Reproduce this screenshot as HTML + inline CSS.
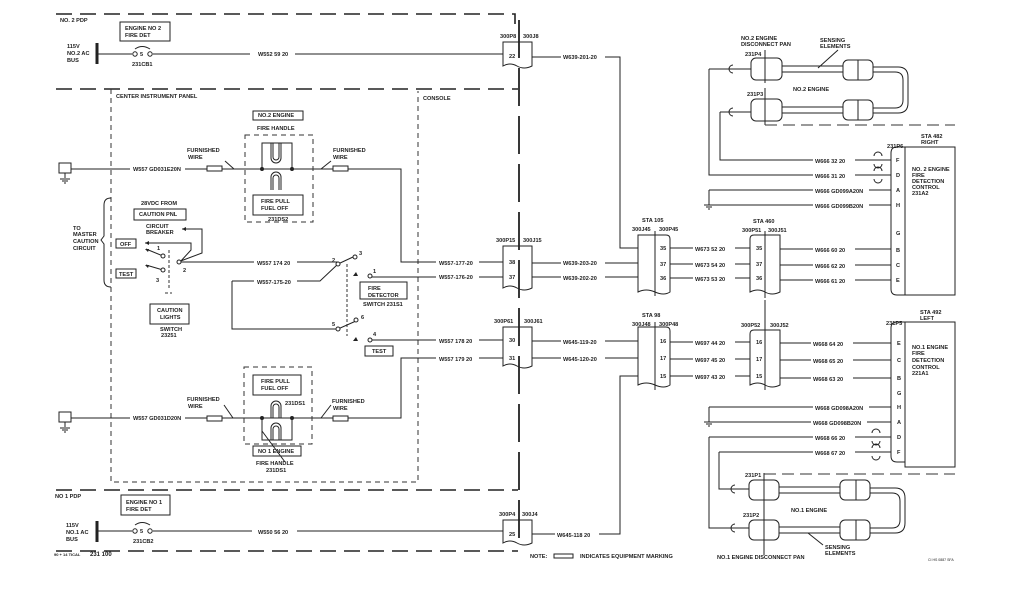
<!DOCTYPE html>
<html><head><meta charset="utf-8"><style>
html,body{margin:0;padding:0;background:#fff}
svg{display:block}
text{font-family:"Liberation Sans",sans-serif;font-size:5.6px;fill:#222;font-weight:bold}
.l{stroke:#222;stroke-width:1;fill:none}
.d{stroke:#222;stroke-width:1.6;fill:none;stroke-dasharray:16,8}
.dd{stroke:#333;stroke-width:1;fill:none;stroke-dasharray:5,4}
.b{stroke:#222;stroke-width:1;fill:#fff}
</style></head><body>
<svg width="1024" height="600" viewBox="0 0 1024 600" xmlns="http://www.w3.org/2000/svg">
<path class="d" d="M56 14H515V24"/>
<path class="d" d="M56 89H518"/>
<path class="d" d="M56 490H518"/>
<path class="d" d="M56 551H518"/>
<path class="dd" d="M111 89V482H418V91"/>
<text x="60" y="22">NO. 2 PDP</text>
<text x="116" y="98">CENTER INSTRUMENT PANEL</text>
<text x="423" y="100">CONSOLE</text>
<text x="55" y="498">NO 1 PDP</text>
<text x="54" y="556" style="font-size:4px">90 + 14 TICAL</text><text x="90" y="556" style="font-size:6px">231 100</text>

<rect class="b" x="120" y="22" width="50" height="19"/>
<text x="125" y="30">ENGINE NO 2</text><text x="125" y="37">FIRE DET</text>
<text x="67" y="48">115V</text><text x="67" y="55">NO.2 AC</text><text x="67" y="62">BUS</text>
<path d="M97 43V64" stroke="#222" stroke-width="3"/>
<path class="l" d="M97 54H132M153 54H505"/>
<circle class="b" cx="135" cy="54" r="2.2"/><circle class="b" cx="150" cy="54" r="2.2"/>
<path class="l" d="M135 49Q142 44 150 49"/>
<text x="140" y="56">5</text><text x="132" y="66">231CB1</text>
<rect x="250" y="50" width="45" height="7" fill="#fff"/><text x="258" y="56">W552 59 20</text>

<rect class="b" x="121" y="495" width="49" height="20"/>
<text x="126" y="504">ENGINE NO 1</text><text x="126" y="511">FIRE DET</text>
<text x="66" y="527">115V</text><text x="66" y="534">NO.1 AC</text><text x="66" y="541">BUS</text>
<path d="M97 521V542" stroke="#222" stroke-width="3"/>
<path class="l" d="M97 531H132M153 531H505"/>
<circle class="b" cx="135" cy="531" r="2.2"/><circle class="b" cx="150" cy="531" r="2.2"/>
<path class="l" d="M135 525Q142 520 150 525"/>
<text x="140" y="533">5</text><text x="133" y="543">231CB2</text>
<rect x="252" y="528" width="45" height="7" fill="#fff"/><text x="258" y="534">W550 56 20</text>

<path class="l" d="M65 169H401V262H505"/>
<rect class="b" x="59" y="163" width="12" height="10"/>
<path class="l" d="M65 173V178M60 179H70M62 181H68M64 183H66"/>
<rect x="130" y="165" width="55" height="7" fill="#fff"/><text x="133" y="171">W557 GD031E20N</text>
<rect class="b" x="207" y="166" width="15" height="5"/><rect class="b" x="333" y="166" width="15" height="5"/>
<text x="187" y="152">FURNISHED</text><text x="188" y="159">WIRE</text>
<path class="l" d="M225 161L234 169"/>
<text x="333" y="152">FURNISHED</text><text x="333" y="159">WIRE</text>
<path class="l" d="M331 161L321 169"/>
<rect class="b" x="253" y="111" width="50" height="9"/><text x="258" y="117">NO.2 ENGINE</text>
<text x="257" y="130">FIRE HANDLE</text>
<rect class="dd" x="245" y="135" width="68" height="87"/>
<path class="l" d="M262 169V143H292V169"/>
<path class="l" d="M271 143V158A5 5 0 0 0 281 158V143M273 143V157A3 3 0 0 0 279 157V143"/>
<path class="l" d="M271 190V177A5 5 0 0 1 281 177V190M273 190V178A3 3 0 0 1 279 178V190"/>
<circle cx="262" cy="169" r="2" fill="#222"/><circle cx="292" cy="169" r="2" fill="#222"/>
<rect class="b" x="253" y="195" width="50" height="20"/>
<text x="261" y="203">FIRE PULL</text><text x="261" y="210">FUEL OFF</text>
<text x="268" y="221">231DS2</text>

<path class="l" d="M65 418H401V358H505"/>
<rect class="b" x="59" y="412" width="12" height="10"/>
<path class="l" d="M65 422V427M60 428H70M62 430H68M64 432H66"/>
<rect x="130" y="414" width="55" height="7" fill="#fff"/><text x="133" y="420">W557 GD031D20N</text>
<rect class="b" x="207" y="416" width="15" height="5"/><rect class="b" x="333" y="416" width="15" height="5"/>
<text x="187" y="401">FURNISHED</text><text x="188" y="408">WIRE</text>
<path class="l" d="M224 405L233 418"/>
<text x="332" y="403">FURNISHED</text><text x="333" y="410">WIRE</text>
<path class="l" d="M331 405L321 418"/>
<rect class="dd" x="244" y="367" width="68" height="77"/>
<rect class="b" x="253" y="375" width="48" height="20"/>
<text x="261" y="383">FIRE PULL</text><text x="261" y="390">FUEL OFF</text>
<path class="l" d="M271 418V406A5 5 0 0 1 281 406V418M273 418V407A3 3 0 0 1 279 407V418"/>
<path class="l" d="M262 418V440H292V418"/>
<path class="l" d="M271 440V428A5 5 0 0 1 281 428V440M273 440V429A3 3 0 0 1 279 429V440"/>
<circle cx="262" cy="418" r="2" fill="#222"/><circle cx="292" cy="418" r="2" fill="#222"/>
<text x="285" y="405">231DS1</text>
<rect class="b" x="253" y="446" width="48" height="10"/><text x="258" y="453">NO 1 ENGINE</text>
<path class="l" d="M262 431L285 462"/>
<text x="256" y="465">FIRE HANDLE</text><text x="266" y="472">231DS1</text>

<path class="l" d="M111 198Q104 198 104 205V236L101 240L104 244V280Q104 287 111 287"/>
<text x="73" y="230">TO</text><text x="73" y="236">MASTER</text><text x="73" y="243">CAUTION</text><text x="73" y="250">CIRCUIT</text>
<text x="141" y="205">28VDC FROM</text>
<rect class="b" x="134" y="209" width="52" height="11"/><text x="139" y="216">CAUTION PNL</text>
<text x="146" y="228">CIRCUIT</text><text x="146" y="234">BREAKER</text>
<rect class="b" x="116" y="239" width="20" height="9"/><text x="120" y="246">OFF</text>
<rect class="b" x="116" y="269" width="20" height="9"/><text x="119" y="276">TEST</text>
<path class="l" d="M145 243H191V250L180 262M178 262L202 253V229H182"/>
<path d="M145 243l4-2v4zM182 229l4-2v4z" fill="#222"/>
<path class="l" d="M146 249L163 256M146 265L163 270"/>
<path d="M145 249l4 0-1 3zM145 265l4 0-1 3z" fill="#222"/>
<circle class="b" cx="163" cy="256" r="2"/><circle class="b" cx="163" cy="270" r="2"/><circle class="b" cx="179" cy="262" r="2"/>
<text x="157" y="250">1</text><text x="156" y="282">3</text><text x="183" y="272">2</text>
<path class="dd" d="M169 250V290M165 293H172" style="stroke-dasharray:3,2"/>
<rect class="b" x="150" y="304" width="39" height="20"/>
<text x="157" y="312">CAUTION</text><text x="160" y="319">LIGHTS</text>
<text x="160" y="331">SWITCH</text><text x="161" y="337">23251</text>
<path class="l" d="M181 262H338"/>
<rect x="254" y="259" width="43" height="7" fill="#fff"/><text x="257" y="265">W557 174 20</text>

<path class="l" d="M338 264L353 257M232 281H320L338 264M232 281V329H338L356 321"/>
<rect x="254" y="278" width="43" height="7" fill="#fff"/><text x="257" y="284">W557-175-20</text>
<circle class="b" cx="338" cy="264" r="2"/><circle class="b" cx="355" cy="257" r="2"/>
<circle class="b" cx="338" cy="329" r="2"/><circle class="b" cx="356" cy="320" r="2"/>
<text x="332" y="262">2</text><text x="359" y="255">3</text><text x="332" y="326">5</text><text x="361" y="319">6</text>
<path class="dd" d="M347 264V336" style="stroke-dasharray:3,2"/>
<path d="M353 276l3-4 2 4z" fill="#222"/><circle class="b" cx="370" cy="276" r="2"/><text x="373" y="273">1</text>
<path class="l" d="M372 277H505"/>
<path d="M353 341l3-4 2 4z" fill="#222"/><circle class="b" cx="370" cy="340" r="2"/><text x="373" y="336">4</text>
<path class="l" d="M372 340H505"/>
<rect class="b" x="360" y="282" width="47" height="17"/><text x="368" y="290">FIRE</text><text x="368" y="297">DETECTOR</text>
<text x="363" y="306">SWITCH 231S1</text>
<rect class="b" x="365" y="346" width="28" height="10"/><text x="372" y="353">TEST</text>
<rect x="436" y="259" width="43" height="7" fill="#fff"/><text x="439" y="265">W557-177-20</text>
<rect x="436" y="273" width="43" height="7" fill="#fff"/><text x="439" y="279">W557-176-20</text>
<rect x="436" y="337" width="43" height="7" fill="#fff"/><text x="439" y="343">W557 178 20</text>
<rect x="436" y="355" width="43" height="7" fill="#fff"/><text x="439" y="361">W557 179 20</text>

<g>
<path class="b" d="M503 42V66Q510 62 517 66Q524 70 532 66V42Z"/><text x="500" y="38">300P8</text><text x="523" y="38">300J8</text><text x="509" y="58">22</text>
<path class="b" d="M503 246V288Q510 284 517 288Q524 292 532 288V246Z"/><text x="496" y="242">300P15</text><text x="523" y="242">300J15</text><text x="509" y="264">38</text><text x="509" y="279">37</text>
<path class="b" d="M503 327V366Q510 362 517 366Q524 370 532 366V327Z"/><text x="494" y="323">300P61</text><text x="524" y="323">300J61</text><text x="509" y="342">30</text><text x="509" y="360">31</text>
<path class="b" d="M503 520V543Q510 539 517 543Q524 547 532 543V520Z"/><text x="499" y="516">300P4</text><text x="522" y="516">300J4</text><text x="509" y="536">25</text>
<path d="M519 20V548" stroke="#222" stroke-width="1.8" stroke-dasharray="38,10"/>
</g>
<path class="l" d="M532 57H620V248H638M532 263H638M532 277H638M532 341H638M532 358H638M532 534H620V376H638"/>
<rect x="561" y="53" width="44" height="7" fill="#fff"/><text x="563" y="59">W639-201-20</text>
<rect x="561" y="259" width="44" height="7" fill="#fff"/><text x="563" y="265">W639-203-20</text>
<rect x="561" y="274" width="44" height="7" fill="#fff"/><text x="563" y="280">W639-202-20</text>
<rect x="561" y="338" width="44" height="7" fill="#fff"/><text x="563" y="344">W645-119-20</text>
<rect x="561" y="355" width="44" height="7" fill="#fff"/><text x="563" y="361">W645-120-20</text>
<rect x="555" y="531" width="44" height="7" fill="#fff"/><text x="557" y="537">W645-118 20</text>

<path class="b" d="M638 235V292Q646 288 655 292Q664 296 670 292V239Q670 235 666 235Z"/><path class="l" d="M655 231V296"/>
<text x="642" y="222">STA 105</text><text x="632" y="231">300J45</text><text x="659" y="231">300P45</text>
<text x="660" y="250">35</text><text x="660" y="266">37</text><text x="660" y="280">36</text>
<path class="b" d="M750 239Q750 235 754 235H780V292Q772 296 765 292Q758 288 750 292Z"/><path class="l" d="M765 231V298"/>
<text x="753" y="223">STA 460</text><text x="742" y="232">300P51</text><text x="768" y="232">300J51</text>
<text x="756" y="250">35</text><text x="756" y="266">37</text><text x="756" y="280">36</text>
<path class="b" d="M638 327V385Q646 381 655 385Q664 389 670 385V331Q670 327 666 327Z"/><path class="l" d="M655 322V390"/>
<text x="642" y="317">STA 98</text><text x="632" y="326">300J48</text><text x="659" y="326">300P48</text>
<text x="660" y="343">16</text><text x="660" y="360">17</text><text x="660" y="378">15</text>
<path class="b" d="M750 334Q750 330 754 330H780V385Q772 389 765 385Q758 381 750 385Z"/><path class="l" d="M765 300V390"/>
<text x="741" y="327">300P52</text><text x="770" y="327">300J52</text>
<text x="756" y="344">16</text><text x="756" y="361">17</text><text x="756" y="378">15</text>
<path class="l" d="M670 248H750M670 264H750M670 278H750M670 342H750M670 359H750M670 376H750"/>
<rect x="693" y="245" width="42" height="7" fill="#fff"/><text x="695" y="251">W673 52 20</text>
<rect x="693" y="261" width="42" height="7" fill="#fff"/><text x="695" y="267">W673 54 20</text>
<rect x="693" y="275" width="42" height="7" fill="#fff"/><text x="695" y="281">W673 53 20</text>
<rect x="693" y="339" width="42" height="7" fill="#fff"/><text x="695" y="345">W697 44 20</text>
<rect x="693" y="356" width="42" height="7" fill="#fff"/><text x="695" y="362">W697 45 20</text>
<rect x="693" y="373" width="42" height="7" fill="#fff"/><text x="695" y="379">W697 43 20</text>

<path class="l" d="M780 249H891M780 265H891M780 280H891M720 112V160H891M709 69V175H891M709 190H891M709 190V205H891"/>
<path class="l" d="M704 205H714M706 207H712M708 209H710"/>
<rect x="813" y="246" width="42" height="7" fill="#fff"/><text x="815" y="252">W666 60 20</text>
<rect x="813" y="262" width="42" height="7" fill="#fff"/><text x="815" y="268">W666 62 20</text>
<rect x="813" y="277" width="42" height="7" fill="#fff"/><text x="815" y="283">W666 61 20</text>
<rect x="813" y="157" width="42" height="7" fill="#fff"/><text x="815" y="163">W666 32 20</text>
<rect x="813" y="172" width="42" height="7" fill="#fff"/><text x="815" y="178">W666 31 20</text>
<rect x="813" y="187" width="56" height="7" fill="#fff"/><text x="815" y="193">W666 GD099A20N</text>
<rect x="813" y="202" width="56" height="7" fill="#fff"/><text x="815" y="208">W666 GD099B20N</text>
<path class="l" d="M874 156A4 4 0 0 1 882 156M874 164A4 4 0 0 0 882 164M874 171A4 4 0 0 1 882 171M874 179A4 4 0 0 0 882 179"/>
<path class="b" d="M905 147H897Q891 147 891 153V289Q891 295 897 295H905Z"/>
<rect class="b" x="905" y="147" width="50" height="148"/>
<text x="896" y="162">F</text><text x="896" y="177">D</text><text x="896" y="192">A</text><text x="896" y="207">H</text><text x="896" y="235">G</text><text x="896" y="252">B</text><text x="896" y="267">C</text><text x="896" y="282">E</text>
<text x="887" y="148">231P6</text><text x="921" y="138">STA 482</text><text x="921" y="144">RIGHT</text>
<text x="912" y="171">NO. 2 ENGINE</text><text x="912" y="177">FIRE</text><text x="912" y="183">DETECTION</text><text x="912" y="189">CONTROL</text><text x="912" y="195">231A2</text>

<path class="l" d="M780 343H891M780 360H891M780 378H891M709 407H891M709 407V422H891M709 437H891M709 437V528H749M719 452H891M719 452V489H749"/>
<path class="l" d="M704 422H714M706 424H712M708 426H710"/>
<rect x="811" y="340" width="42" height="7" fill="#fff"/><text x="813" y="346">W668 64 20</text>
<rect x="811" y="357" width="42" height="7" fill="#fff"/><text x="813" y="363">W668 65 20</text>
<rect x="811" y="375" width="42" height="7" fill="#fff"/><text x="813" y="381">W668 63 20</text>
<rect x="813" y="404" width="56" height="7" fill="#fff"/><text x="815" y="410">W668 GD098A20N</text>
<rect x="811" y="419" width="56" height="7" fill="#fff"/><text x="813" y="425">W668 GD098B20N</text>
<rect x="813" y="434" width="42" height="7" fill="#fff"/><text x="815" y="440">W668 66 20</text>
<rect x="813" y="449" width="42" height="7" fill="#fff"/><text x="815" y="455">W668 67 20</text>
<path class="l" d="M872 433A4 4 0 0 1 880 433M872 441A4 4 0 0 0 880 441M872 448A4 4 0 0 1 880 448M872 456A4 4 0 0 0 880 456"/>
<path class="b" d="M905 322H897Q891 322 891 328V456Q891 462 897 462H905Z"/>
<rect class="b" x="905" y="322" width="50" height="145"/>
<text x="897" y="345">E</text><text x="897" y="362">C</text><text x="897" y="380">B</text><text x="897" y="395">G</text><text x="897" y="409">H</text><text x="897" y="424">A</text><text x="897" y="439">D</text><text x="897" y="454">F</text>
<text x="886" y="325">231P5</text><text x="920" y="314">STA 492</text><text x="920" y="320">LEFT</text>
<text x="912" y="349">NO.1 ENGINE</text><text x="912" y="355">FIRE</text><text x="912" y="362">DETECTION</text><text x="912" y="369">CONTROL</text><text x="912" y="375">221A1</text>

<path class="l" d="M709 69H751M720 112H751"/>
<path class="l" d="M733 65A4 4 0 0 0 733 73M733 108A4 4 0 0 0 733 116"/>
<rect class="b" x="751" y="58" width="31" height="22" rx="5"/><rect class="b" x="751" y="99" width="31" height="22" rx="5"/>
<path class="l" d="M765 50V83M765 88V125"/>
<path class="dd" d="M765 125H955" style="stroke-dasharray:12,6"/>
<path class="l" d="M782 66H843M782 72H843M782 107H843M782 113H843"/>
<rect class="b" x="843" y="60" width="30" height="20" rx="5"/><path class="l" d="M858 60V80"/>
<rect class="b" x="843" y="100" width="30" height="20" rx="5"/><path class="l" d="M858 100V120"/>
<path class="l" d="M873 67H898Q908 67 908 77V103Q908 113 898 113H873M873 72H895Q903 72 903 80V100Q903 108 895 108H873"/>
<text x="741" y="40">NO.2 ENGINE</text><text x="741" y="46">DISCONNECT PAN</text>
<text x="820" y="42">SENSING</text><text x="820" y="48">ELEMENTS</text>
<path class="l" d="M838 50L818 68"/>
<text x="745" y="56">231P4</text><text x="747" y="96">231P3</text>
<text x="793" y="91">NO.2 ENGINE</text>

<path class="l" d="M735 485A4 4 0 0 0 735 493M735 524A4 4 0 0 0 735 532"/>
<rect class="b" x="749" y="480" width="30" height="20" rx="5"/><rect class="b" x="749" y="520" width="30" height="20" rx="5"/>
<path class="l" d="M764 473V555"/>
<path class="dd" d="M764 474H955" style="stroke-dasharray:12,6"/>
<path class="l" d="M779 487H840M779 493H840M779 527H840M779 533H840"/>
<rect class="b" x="840" y="480" width="30" height="20" rx="5"/><path class="l" d="M856 480V500"/>
<rect class="b" x="840" y="520" width="30" height="20" rx="5"/><path class="l" d="M856 520V540"/>
<path class="l" d="M870 488H895Q905 488 905 498V523Q905 533 895 533H870M870 493H892Q900 493 900 501V520Q900 528 892 528H870"/>
<text x="745" y="477">231P1</text><text x="743" y="517">231P2</text>
<text x="791" y="512">NO.1 ENGINE</text>
<text x="825" y="549">SENSING</text><text x="825" y="555">ELEMENTS</text>
<path class="l" d="M823 545L808 533"/>
<text x="717" y="559">NO.1 ENGINE DISCONNECT PAN</text>
<text x="530" y="558">NOTE:</text><rect class="b" x="554" y="554" width="19" height="4"/><text x="580" y="558">INDICATES EQUIPMENT MARKING</text>
<text x="928" y="561" style="font-size:3.5px;font-weight:normal">CI HS 0887 SFA</text>
</svg>
</body></html>
